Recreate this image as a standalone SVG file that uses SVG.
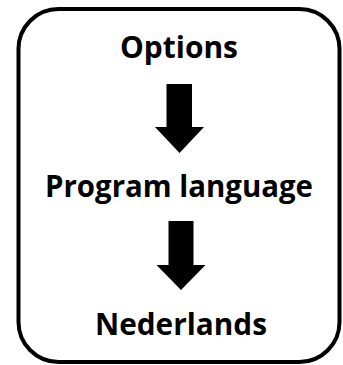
<svg xmlns="http://www.w3.org/2000/svg" width="343" height="365" viewBox="0 0 343 365">
<style>
.frame{fill:#fff;stroke:#000;stroke-width:4}
.lbl{font-family:"Open Sans","Liberation Sans",sans-serif;font-weight:bold;font-size:31px;fill:#000;text-anchor:middle}
.arr{fill:#000}
</style>
<rect width="343" height="365" fill="#fff"/>
<rect class="frame" x="18.5" y="9" width="321" height="353" rx="40" ry="40"/>
<g id="options"><text class="lbl" x="179" y="58" textLength="118" lengthAdjust="spacingAndGlyphs">Options</text></g>
<g id="program-language"><text class="lbl" x="179" y="197" textLength="268" lengthAdjust="spacingAndGlyphs">Program language</text></g>
<g id="nederlands"><text class="lbl" x="181" y="335" textLength="172" lengthAdjust="spacingAndGlyphs">Nederlands</text></g>
<g id="connectors">
<polygon class="arr" points="166.5,84 192,84 192,127 204,127 179.5,153 155,127 166.5,127"/>
<polygon class="arr" points="168.5,221 193.5,221 193.5,265 205.5,265 181,290 156.5,265 168.5,265"/>
</g>
</svg>
